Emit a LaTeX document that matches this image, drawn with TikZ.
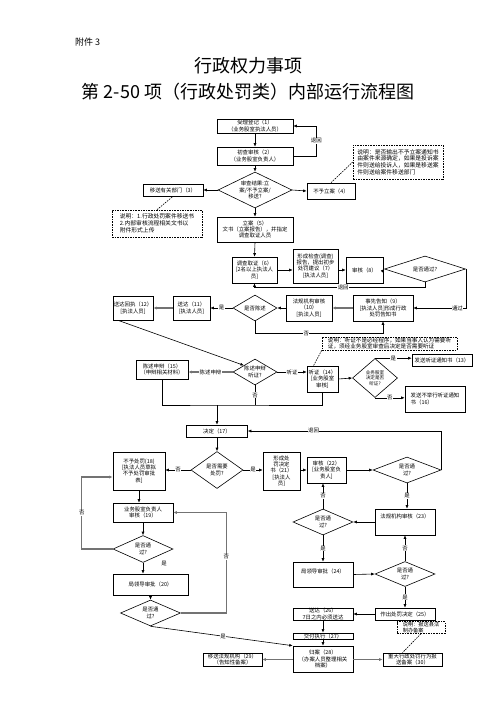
\documentclass[tikz,border=0pt]{standalone}
\usepackage{fontspec}
\setmainfont{Noto Sans CJK SC}
\usetikzlibrary{shapes.geometric,arrows.meta}
\begin{document}
\begin{tikzpicture}[x=1pt,y=-1pt,
  box/.style={draw, line width=0.6pt, inner sep=0.5pt, align=center, font=\fontsize{5.4}{6.3}\selectfont},
  dia/.style={draw, shape=diamond, line width=0.6pt, inner sep=0pt},
  dt/.style={align=center, inner sep=0pt, font=\fontsize{5.4}{6.3}\selectfont},
  note/.style={draw, dash pattern=on 1.6pt off 1pt, line width=0.6pt, inner sep=1pt, align=left, font=\fontsize{5.8}{6.8}\selectfont},
  lab/.style={fill=white, inner sep=0.5pt, font=\fontsize{5.4}{6.3}\selectfont},
  arr/.style={draw, line width=0.6pt, -{Latex[length=3.5pt,width=3pt]}},
  garr/.style={draw=black!55, line width=1.1pt, -{Latex[length=3.5pt,width=3pt]}},
  ln/.style={draw, line width=0.6pt},
  dsh/.style={draw, dash pattern=on 1.6pt off 1pt, line width=0.6pt}
]
\useasboundingbox (0,0) rectangle (496,702);
\fill[white] (0,0) rectangle (496,702);

% titles
\node[anchor=west, font=\fontsize{9}{10}\selectfont, inner sep=0pt] (att) at (75,42) {附件 3};
\node[font=\fontsize{18}{20}\selectfont, inner sep=0pt] (t1) at (248,66) {行政权力事项};
\node[font=\fontsize{18}{20}\selectfont, inner sep=0pt] (t2) at (248,92) {第 2-50 项（行政处罚类）内部运行流程图};

% nodes
\node[box, minimum width=76, minimum height=14] (n1) at (255,126) {受理登记（1）\\（业务股室执法人员）};
\node[box, minimum width=76, minimum height=18] (n2) at (255,156) {初查审核（2）\\（业务股室负责人）};
\node[dia, minimum width=74, minimum height=36] (d1) at (255,190) {};
\node[dt] (d1t) at (d1) {审查结果:立\\案/不予立案/\\移送?};
\node[box, minimum width=60, minimum height=12] (n3) at (173,190) {移送有关部门（3）};
\node[box, minimum width=48, minimum height=16] (n4) at (331,191) {不予立案（4）};
\node[note, minimum width=90, minimum height=27] (nt1) at (157,223.5) {说明：1.行政处罚案件移送书\\2.内部审核流程相关文书以\\附件形式上传};
\node[note, minimum width=90, minimum height=34] (nt2) at (398,162) {说明：是否输出不予立案通知书\\由案件来源确定，如果是投诉案\\件则送给投诉人，如果是移送案\\件则送给案件移送部门};
\node[box, minimum width=76, minimum height=25] (n5) at (255,229.5) {立案（5）\\文书（立案报告），并指定\\调查取证人员};
\node[box, minimum width=45, minimum height=26] (n6) at (254.5,270) {调查取证（6）\\{}[2名以上执法人\\员]};
\node[box, minimum width=45, minimum height=34] (n7) at (315.5,266) {形成检查(调查)\\报告，提出初步\\处罚建议（7）\\{}[执法人员]};
\node[box, minimum width=37, minimum height=26] (n8) at (364.5,270) {审核（8）};
\node[dia, minimum width=81, minimum height=26] (d2) at (425,269) {};
\node[dt] (d2t) at (d2) {是否通过?};
\node[box, minimum width=60, minimum height=26] (n9) at (383,308) {事先告知（9）\\{}[执法人员]形成行政\\处罚告知书};
\node[box, minimum width=46, minimum height=26] (n10) at (309,308) {法规机构审核\\（10）\\{}[执法人员]};
\node[dia, minimum width=44, minimum height=26] (d3) at (255,308) {};
\node[dt] (d3t) at (d3) {是否陈述};
\node[box, minimum width=37, minimum height=24] (n11) at (191.5,308) {送达（11）\\{}[执法人员]};
\node[box, minimum width=40, minimum height=24] (n12) at (133,308) {送达回执（12）\\{}[执法人员]};
\node[dia, minimum width=44, minimum height=26] (d4) at (255,372) {};
\node[dt] (d4t) at (d4) {陈述申辩\\听证?};
\node[box, minimum width=52, minimum height=19] (n15) at (162,369.5) {陈述申辩（15）\\（申辩相关材料）};
\node[box, minimum width=31, minimum height=26] (n14) at (322.5,379) {听证（14）\\{}[业务股室\\审核]};
\node[dia, minimum width=45, minimum height=39] (d5) at (375,378) {};
\node[dt, font=\fontsize{4.6}{5.6}\selectfont] (d5t) at (d5) {业务股室\\决定是否\\听证?};
\node[box, minimum width=60, minimum height=12] (n13) at (442,360) {发送听证通知书（13）};
\node[box, align=left, minimum width=60, minimum height=26] (n16) at (435,399) {发送不举行听证通知\\书（16）};
\node[note, font=\fontsize{5.6}{6.2}\selectfont, inner sep=0.5pt, minimum width=135, minimum height=13] (nt3) at (389.5,343.5) {说明：听证不是必经程序，如果当事人认为需要听\\证，须经业务股室审查后决定是否需要听证};
\coordinate (m) at (217,405);
\node[box, minimum width=61, minimum height=12] (n17) at (217,431) {决定（17）};
\node[dia, minimum width=52, minimum height=37] (d6) at (217,470) {};
\node[dt] (d6t) at (d6) {是否需要\\处罚?};
\node[box, minimum width=52, minimum height=38] (n18) at (139,471) {不予处罚(18)\\{}[执法人员草拟\\不予处罚审批\\表]};
\node[box, minimum width=37, minimum height=38] (n21) at (281.5,471) {形成处\\罚决定\\书（21）\\{}[执法人\\员]};
\node[box, minimum width=39, minimum height=26] (n22) at (326.5,470) {审核（22）\\{}[业务股室负\\责人]};
\node[dia, minimum width=68, minimum height=26] (d7) at (407,470) {};
\node[dt] (d7t) at (d7) {是否通\\过?};
\node[box, minimum width=60, minimum height=26] (n23) at (405,522) {法规机构审核（23）\\~\\~};
\node[dia, minimum width=60, minimum height=26] (d8) at (323,522) {};
\node[dt] (d8t) at (d8) {是否通\\过?};
\node[box, minimum width=60, minimum height=25] (n24) at (323,574.5) {局领导审批（24）\\~};
\node[dia, minimum width=60, minimum height=25] (d9) at (405,574) {};
\node[dt] (d9t) at (d9) {是否通\\过?};
\node[box, minimum width=60, minimum height=12] (n25) at (405,614) {作出处罚决定（25）};
\node[box, minimum width=60, minimum height=12] (n26) at (323,614) {送达（26）\\7日之内必须送达};
\node[box, minimum width=60, minimum height=6] (n27) at (323,636) {交付执行（27）};
\node[box, minimum width=60, minimum height=26] (n28) at (323,659) {归案（28）\\（办案人员整理相关\\档案）};
\node[box, minimum width=59, minimum height=13] (n29) at (232.5,659.5) {移送法规机构（29）\\（告知性备案）};
\node[box, minimum width=59, minimum height=13] (n30) at (412.5,659.5) {重大行政处罚行为报\\送备案（30）};
\node[note, font=\fontsize{5.2}{5.8}\selectfont, minimum width=48, minimum height=11, inner sep=0.5pt] (nt4) at (421,627.5) {说明：报送县法\\制办备案};
\node[box, minimum width=60, minimum height=19] (n19) at (143,512.5) {业务股室负责人\\审核（19）};
\node[dia, minimum width=60, minimum height=27] (d10) at (143,549) {};
\node[dt] (d10t) at (d10) {是否通\\过?};
\node[box, minimum width=75, minimum height=21] (n20) at (150.5,584.5) {局领导审批（20）};
\node[dia, minimum width=60, minimum height=26] (d11) at (150.5,613) {};
\node[dt] (d11t) at (d11) {是否通\\过?};

% connectors
\draw[arr] (n1.south) -- (n2.north);
\draw[arr] (n2.east) -- ++(23,0) |- node[lab,pos=0.25]{退回} (n1.east);
\draw[arr] (n2.south) -- (d1.north);
\draw[arr] (d1.west) -- (n3.east);
\draw[arr] (d1.east) -- (n4.west);
\draw[arr] (d1.south) -- (n5.north);
\draw[dsh] (nt1.north) -- (n3.south);
\draw[dsh] (n4.north) -- (nt2.west);
\draw[arr] (n5.south) -- (n6.north);
\draw[arr] (n6.east) -- (n6.east -| n7.west);
\draw[arr] (n7.east |- n8.west) -- (n8.west);
\draw[arr] (n8.east) -- (d2.west);
\draw[arr] (d2.south) -- ++(0,5) -| node[lab,pos=0.24]{退回} (n6.south);
\draw[arr] (d2.east) |- node[lab,pos=0.58]{通过} (n9.east);
\draw[garr] (n9.west) -- (n10.east);
\draw[arr] (n10.west) -- (d3.east);
\draw[arr] (d3.west) -- node[lab]{是} (n11.east);
\draw[garr] (n11.west) -- (n12.east);
\draw[arr] (d3.south) -- ++(0,12) -| node[lab,pos=0.2]{否} (n9.south);
\draw[arr] ([xshift=-15pt]n12.south) -- (d4.north west);
\draw[garr] (d4.west) -- node[lab]{陈述申辩} (d4.west -| n15.east);
\draw[arr] (d4.east) -- node[lab]{听证} (d4.east -| n14.west);
\draw[arr] (n14.east) -- (d5.west);
\draw[arr] (d5.north) -- node[lab]{是} (d5.north -| n13.west);
\draw[arr] (d5.south) -- node[lab]{否} (d5.south -| n16.west);
\draw[dsh] (nt3.south west) -- ([xshift=-9pt]n14.north);
\draw[ln] (n15.south) |- (m) -| (n14.south);
\draw[ln] (d4.south) -- node[lab]{否} (d4.south |- m);
\draw[arr] (m) -- (n17.north);
\draw[arr] (n17.south) -- (d6.north);
\draw[arr] (d6.west) -- node[lab]{否} (d6.west -| n18.east);
\draw[arr] (d6.east) -- node[lab]{是} (d6.east -| n21.west);
\draw[arr] (n21.east |- n22.west) -- (n22.west);
\draw[arr] (n22.east) -- (d7.west);
\draw[arr] (d7.east) |- node[lab,pos=0.83]{退回} (n17.east);
\draw[arr] (d7.south) -- node[lab]{是} (d7.south |- n23.north);
\draw[arr] (n23.west) -- (d8.east);
\draw[arr] (d8.north) -- node[lab]{否} (d8.north |- n22.south);
\draw[arr] (d8.south) -- node[lab]{是} (n24.north);
\draw[arr] (n24.east) -- (d9.west);
\draw[arr] (d9.north) -- node[lab]{否} (n23.south);
\draw[arr] (d9.south) -- node[lab]{是} (n25.north);
\draw[arr] (n25.west) -- (n26.east);
\draw[arr] (n26.south) -- (n27.north);
\draw[arr] (n27.south) -- (n28.north);
\draw[garr] (n28.west |- n29.east) -- (n29.east);
\draw[garr] (n28.east |- n30.west) -- (n30.west);
\draw[dsh] (nt4.south) -- ([xshift=-10pt]n30.north);
\draw[arr] (n18.south) -- (n18.south |- n19.north);
\draw[arr] (n19.south) -- (d10.north);
\draw[arr] (d10.south) -- node[lab,pos=0.1,xshift=21pt]{是} (d10.south |- n20.north);
\draw[garr] (d10.west) -- ++(-31,0) |- node[lab,pos=0.25]{否} ([yshift=-6pt]n18.west);
\draw[arr] (n20.south) -- (d11.north);
\draw[garr] (d11.east) -- ++(45.5,0) |- node[lab,pos=0.28]{否} (n19.east);
\draw[arr] (d11.south) -- node[lab,pos=0.51]{是} (n28.north west);
\end{tikzpicture}
\end{document}
